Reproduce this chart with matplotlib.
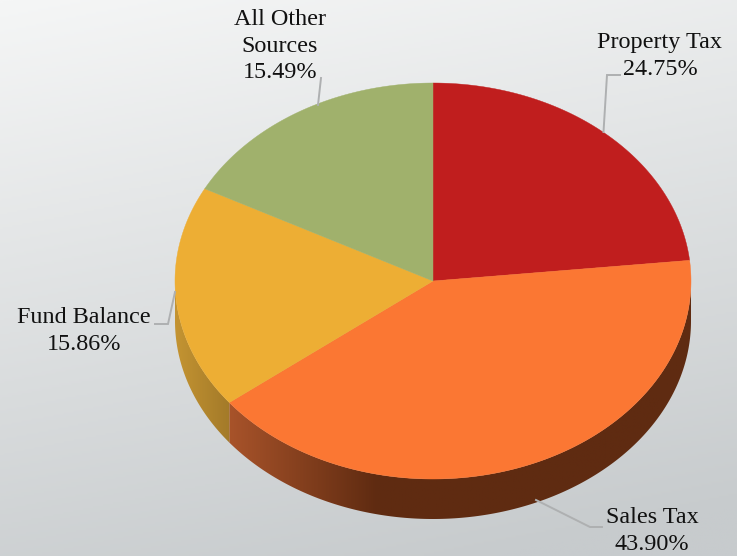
import numpy as np
import matplotlib
matplotlib.use("Agg")
import matplotlib.pyplot as plt
from matplotlib.colors import LinearSegmentedColormap
from matplotlib.patches import Polygon

categories = ["Property Tax", "Sales Tax", "Fund Balance", "All Other\nSources"]
shares = [24.75, 43.90, 15.86, 15.49]
top_colors = ["#c01e1e", "#fb7733", "#edae34", "#a0b16c"]
wall_left = ["#7a1414", "#a8532a", "#c49432", "#66703f"]
wall_right = ["#7a1414", "#5f2b11", "#a37a29", "#66703f"]

W, H = 737, 556
CX, CY, RX, RY, DEPTH = 433.0, 281.0, 258.0, 198.0, 40.0
# Oblique viewing of the disc: slightly stretches some sectors on screen.
VIEW_K, VIEW_C = 1.05, 0.15

plt.rcParams["font.family"] = ["Liberation Serif", "DejaVu Serif"]
fig = plt.figure(figsize=(W / 100, H / 100), dpi=100)
ax = fig.add_axes([0, 0, 1, 1])
ax.set_xlim(0, W)
ax.set_ylim(H, 0)
ax.axis("off")

# Backdrop: soft diagonal gradient, light at the top left.
xx, yy = np.meshgrid(np.linspace(0, 1, 370), np.linspace(0, 1, 280))
ramp = np.clip(0.85 * yy + 0.22 * xx, 0, 1)
back = LinearSegmentedColormap.from_list("back", ["#f5f6f6", "#c7cbcd"])
ax.imshow(ramp, extent=[0, W, H, 0], cmap=back, vmin=0, vmax=1,
          aspect="auto", zorder=0)


def view_angle(theta):
    """Screen angle, clockwise from the top, of a sector boundary."""
    half = np.asarray(theta) / 2
    return 2 * np.arctan2(VIEW_K * np.sin(half),
                          np.cos(half) + VIEW_C * np.sin(half))


def rim(theta):
    return CX + RX * np.sin(theta), CY - RY * np.cos(theta)


edges = 2 * np.pi * np.concatenate([[0], np.cumsum(shares)]) / np.sum(shares)
edges[-1] = 2 * np.pi

# Side wall first, so the top face overlaps it.
for i in range(len(shares)):
    a, b = view_angle(edges[i]), view_angle(edges[i + 1])
    a, b = max(a, np.pi / 2), min(b, 3 * np.pi / 2)
    if b <= a:
        continue
    th = np.linspace(a, b, 200)
    x, y = rim(th)
    pts = np.vstack([np.column_stack([x, y]),
                     np.column_stack([x[::-1], y[::-1] + DEPTH])])
    clip = Polygon(pts, closed=True, fc="none", ec="none", transform=ax.transData)
    ax.add_patch(clip)
    xa, xb = x.min(), x.max()
    if i == 1:
        # The sales wall reaches its full brown about a third of the way across.
        cmap = LinearSegmentedColormap.from_list(
            "wall_sales", [wall_left[i], wall_right[i]])
        span = np.clip(np.linspace(0, 1, 300) / 0.32, 0, 1)
    else:
        cmap = LinearSegmentedColormap.from_list(
            f"wall{i}", [wall_left[i], wall_right[i]])
        span = np.linspace(0, 1, 300)
    im = ax.imshow(span[None, :], extent=[xa, xb, y.max() + DEPTH, y.min()],
                   cmap=cmap, vmin=0, vmax=1, aspect="auto", zorder=1)
    im.set_clip_path(clip)

# Top face.
for i, color in enumerate(top_colors):
    a, b = view_angle(edges[i]), view_angle(edges[i + 1])
    th = np.linspace(a, b, 300)
    x, y = rim(th)
    pts = np.vstack([[CX, CY], np.column_stack([x, y])])
    ax.add_patch(Polygon(pts, closed=True, fc=color, ec=color, lw=0.3, zorder=2))

ax.set_xlim(0, W)
ax.set_ylim(H, 0)

# Leader lines and labels.
leaders = [
    ([603.5, 607, 620], [132, 75, 75]),
    ([536, 590, 602], [500, 527, 527]),
    ([175, 168, 155], [292, 324, 324]),
    ([318, 321], [105, 78]),
]
label_pos = [(660, 56), (652, 531), (84, 331), (280, 46)]
for (lx, ly), (tx, ty), name, val in zip(leaders, label_pos, categories, shares):
    ax.plot(lx, ly, color="#aeb0b1", lw=1.4, zorder=3, solid_joinstyle="miter")
    ax.text(tx, ty, f"{name}\n{val:.2f}%", ha="center", va="center",
            fontsize=17.4, color="#111111", linespacing=1.33, zorder=4)

fig.savefig("out.png", dpi=100)
